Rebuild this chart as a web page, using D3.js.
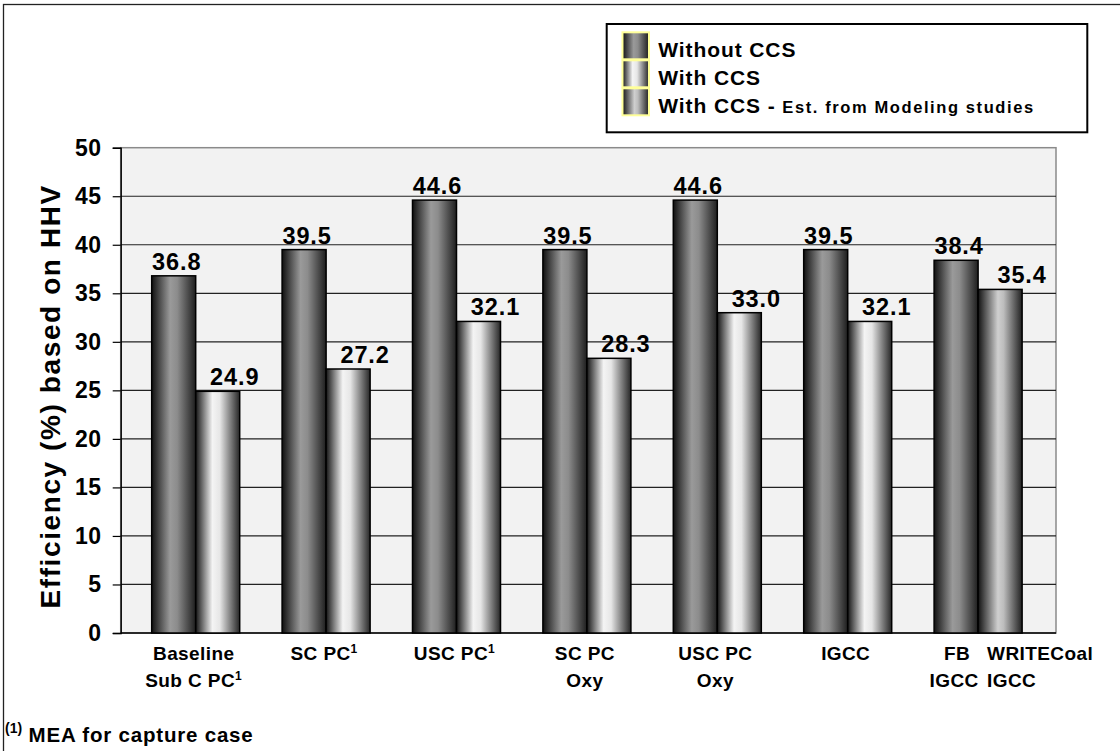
<!DOCTYPE html>
<html>
<head>
<meta charset="utf-8">
<script src="https://cdn.jsdelivr.net/npm/d3@7"></script>
<style>
  html, body { margin: 0; padding: 0; background: #fff; }
  svg { display: block; font-family: "Liberation Sans", Arial, sans-serif; font-weight: bold; }
</style>
</head>
<body>
<svg id="chart" width="1120" height="751"></svg>
<script>
// Plant efficiency (% HHV) with and without CO2 capture
const categories = ["Baseline Sub C PC", "SC PC", "USC PC", "SC PC Oxy", "USC PC Oxy", "IGCC", "FB IGCC / WRITECoal IGCC"];
const withoutCCS = [36.8, 39.5, 44.6, 39.5, 44.6, 39.5, 38.4];
const withCCS = [24.9, 27.2, 32.1, 28.3, 33.0, 32.1, null];
const withCCSModeled = [null, null, null, null, null, null, 35.4];
const yTicks = [0, 5, 10, 15, 20, 25, 30, 35, 40, 45, 50];
// axis label lines; a trailing "¹" is drawn as a superscript
const categoryLines = [
  ["Baseline", "Sub C PC¹"],
  ["SC PC¹"],
  ["USC PC¹"],
  ["SC PC", "Oxy"],
  ["USC PC", "Oxy"],
  ["IGCC"],
  null
];
const splitLabels = [["FB", "IGCC"], ["WRITECoal", "IGCC"]];
const legendItems = ["Without CCS", "With CCS", "With CCS - "];
const legendNote = "Est. from Modeling studies";
const yTitle = "Efficiency (%) based on HHV";
const footnote = "MEA for capture case";

const svg = d3.select("#chart");
const W = 1120, H = 751;

svg.append("rect").attr("width", W).attr("height", H).attr("fill", "#fff");
// outer frame
svg.append("rect").attr("x", 3.5).attr("y", 4.5).attr("width", W + 10).attr("height", H + 10)
  .attr("fill", "none").attr("stroke", "#222").attr("stroke-width", 1.3);

const plot = { left: 120.7, right: 1056, top: 147.7, bottom: 633 };

const y = d3.scaleLinear().domain([0, 50]).range([plot.bottom, plot.top]);
const x = d3.scaleBand().domain(categories).range([130.5, 1043.3])
  .paddingInner(0.325).paddingOuter(0.1625);
const half = x.bandwidth() / 2;

// gradients
const defs = svg.append("defs");
function grad(id, stops) {
  const g = defs.append("linearGradient").attr("id", id)
    .attr("x1", "0").attr("x2", "1").attr("y1", "0").attr("y2", "0");
  stops.forEach(([o, c]) => g.append("stop").attr("offset", o).attr("stop-color", c));
}
grad("gDark", [[0, "#101010"], [0.42, "#9a9a9a"], [0.58, "#8c8c8c"], [1, "#1e1e1e"]]);
grad("gLight", [[0, "#151515"], [0.38, "#f4f4f4"], [0.55, "#e6e6e6"], [1, "#262626"]]);
grad("gModel", [[0, "#121212"], [0.45, "#cfcfcf"], [0.58, "#bdbdbd"], [1, "#202020"]]);

// plot background
svg.append("rect")
  .attr("x", plot.left).attr("y", plot.top)
  .attr("width", plot.right - plot.left).attr("height", plot.bottom - plot.top)
  .attr("fill", "#f2f2f2").attr("stroke", "#8a8a8a").attr("stroke-width", 1.5);

// gridlines
svg.append("g").selectAll("line")
  .data(yTicks.filter(t => t > 0 && t < 50))
  .join("line")
  .attr("x1", plot.left).attr("x2", plot.right)
  .attr("y1", d => y(d)).attr("y2", d => y(d))
  .attr("stroke", "#222").attr("stroke-width", 1.2);

// y axis
const yAxis = d3.axisLeft(y).tickValues(yTicks).tickSize(8).tickPadding(11).tickFormat(d3.format("d"));
const gy = svg.append("g").attr("transform", `translate(${plot.left},0)`).call(yAxis);
gy.select(".domain").attr("stroke", "#000").attr("stroke-width", 1.4);
gy.selectAll(".tick line").attr("stroke", "#000").attr("stroke-width", 1.2);
gy.selectAll(".tick text").attr("font-size", 23).attr("font-weight", "bold")
  .attr("letter-spacing", 0.6)
  .attr("font-family", "'Liberation Sans', Arial, sans-serif").attr("fill", "#000");

// x axis baseline
svg.append("line").attr("x1", plot.left).attr("x2", plot.right)
  .attr("y1", plot.bottom).attr("y2", plot.bottom)
  .attr("stroke", "#000").attr("stroke-width", 1.4);

// bars
const series = [
  { vals: withoutCCS, fill: "url(#gDark)", off: 0, labelDx: 3 },
  { vals: withCCS, fill: "url(#gLight)", off: half, labelDx: 17 },
  { vals: withCCSModeled, fill: "url(#gModel)", off: half, labelDx: 22 }
];
series.forEach(s => {
  const data = categories.map((c, i) => ({ c, v: s.vals[i] })).filter(d => d.v != null);
  svg.append("g").selectAll("rect").data(data).join("rect")
    .attr("x", d => x(d.c) + s.off)
    .attr("y", d => y(d.v))
    .attr("width", half)
    .attr("height", d => y(0) - y(d.v))
    .attr("fill", s.fill)
    .attr("stroke", "#000").attr("stroke-width", 1.5);
  svg.append("g").selectAll("text").data(data).join("text")
    .attr("x", d => x(d.c) + s.off + half / 2 + s.labelDx)
    .attr("y", d => y(d.v) - 6)
    .attr("text-anchor", "middle")
    .attr("font-size", 23.5)
    .attr("letter-spacing", 0.9)
    .attr("fill", "#000")
    .text(d => d3.format(".1f")(d.v));
});

// category labels
function addLine(g, txt, xPos, yPos, anchor) {
  const t = g.append("text").attr("x", xPos).attr("y", yPos)
    .attr("text-anchor", anchor).attr("font-size", 19).attr("letter-spacing", 0.4).attr("fill", "#000");
  if (txt.endsWith("¹")) {
    t.append("tspan").text(txt.slice(0, -1));
    t.append("tspan").attr("font-size", 12).attr("dy", -7).text("1");
  } else {
    t.text(txt);
  }
}
const gx = svg.append("g");
categories.forEach((c, i) => {
  const lines = categoryLines[i];
  if (!lines) return;
  lines.forEach((ln, j) => addLine(gx, ln, x(c) + half - 2, 660 + j * 27, "middle"));
});
// last category: one label under each bar
const lastCat = categories[categories.length - 1];
splitLabels[0].forEach((ln, j) =>
  addLine(gx, ln, x(lastCat) + half / 2 + (j === 0 ? 1 : -2), 660 + j * 27, "middle"));
splitLabels[1].forEach((ln, j) =>
  addLine(gx, ln, x(lastCat) + half + 9, 660 + j * 27, "start"));

// y-axis title
svg.append("text")
  .attr("transform", `translate(60,${(plot.top + plot.bottom) / 2 + 6}) rotate(-90)`)
  .attr("text-anchor", "middle")
  .attr("font-size", 28)
  .attr("letter-spacing", 1.6)
  .attr("fill", "#000")
  .text(yTitle);

// legend
const lg = svg.append("g");
lg.append("rect").attr("x", 606.7).attr("y", 24).attr("width", 480.6).attr("height", 108.3)
  .attr("fill", "#fff").attr("stroke", "#000").attr("stroke-width", 2);
const swFills = ["url(#gDark)", "url(#gLight)", "url(#gModel)"];
legendItems.forEach((name, i) => {
  const base = 57.3 + i * 28;
  lg.append("rect").attr("x", 622.5).attr("y", base - 25).attr("width", 26.5).attr("height", 27)
    .attr("fill", swFills[i]).attr("stroke", "#ffff99").attr("stroke-width", 2);
  const t = lg.append("text").attr("x", 658.3).attr("y", base)
    .attr("font-size", 21).attr("letter-spacing", 0.9).attr("fill", "#000");
  t.append("tspan").text(name);
  if (i === 2) t.append("tspan").attr("font-size", 16.5).attr("letter-spacing", 1.6).text(legendNote);
});

// footnote
const fn = svg.append("text").attr("x", 5).attr("y", 742).attr("font-size", 20.5)
  .attr("letter-spacing", 0.8).attr("fill", "#000");
fn.append("tspan").attr("font-size", 14).attr("letter-spacing", 0).attr("dy", -9).text("(1)");
fn.append("tspan").attr("dy", 9).text(" " + footnote);
</script>
</body>
</html>
